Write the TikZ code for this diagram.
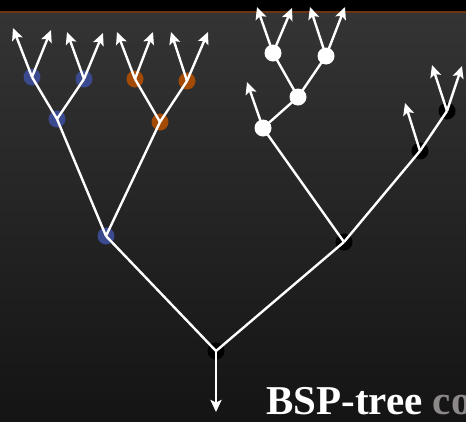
\documentclass[tikz,border=0pt]{standalone}
\usepackage{fontspec}
\setmainfont{Liberation Serif}
\usetikzlibrary{arrows.meta}
\definecolor{bluen}{HTML}{3B4A8E}
\definecolor{orangen}{HTML}{A34A05}
\definecolor{bgtop}{HTML}{343434}
\definecolor{bgbot}{HTML}{141414}
\definecolor{rule}{HTML}{6E3410}
\definecolor{dimtext}{HTML}{8C8888}
\tikzset{
  x=1pt, y=-1pt,
  dot/.style={circle, inner sep=0pt, minimum size=17pt, draw=none},
  bdot/.style={dot, fill=bluen},
  odot/.style={dot, fill=orangen},
  wdot/.style={dot, fill=white},
  kdot/.style={dot, fill=black},
  edge/.style={white, line width=2.4pt},
  arr/.style={edge, -{Stealth[length=12pt,width=11pt,inset=2.5pt]}},
}
\begin{document}
\begin{tikzpicture}
\useasboundingbox (0,0) rectangle (466,421);
\clip (0,0) rectangle (466,421);
\shade[top color=bgtop, bottom color=bgbot] (0,12) rectangle (466,421);
\fill[black] (0,0) rectangle (466,11.5);
\draw[rule, line width=1.3pt] (0,12) -- (466,12);

% nodes
\node[kdot] (root) at (216,351) {};
\node[bdot] (L) at (106,236) {};
\node[kdot] (R) at (344,242) {};
\node[bdot] (LL) at (57,119) {};
\node[odot] (LR) at (160,122) {};
\node[bdot] (LLL) at (32,77) {};
\node[bdot] (LLR) at (84,79) {};
\node[odot] (LRL) at (135,79) {};
\node[odot] (LRR) at (187,81) {};
\node[wdot] (RL) at (263,128) {};
\node[wdot] (RLR) at (298,97) {};
\node[wdot] (RLRL) at (273,53) {};
\node[wdot] (RLRR) at (326,56) {};
\node[kdot] (RR) at (420,151) {};
\node[kdot] (RRR) at (447,111) {};

% leaf arrow ends
\coordinate (t1) at (13,28);
\coordinate (t2) at (51,30);
\coordinate (t3) at (67,32);
\coordinate (t4) at (103,33);
\coordinate (t5) at (117,32);
\coordinate (t6) at (153,32);
\coordinate (t7) at (171,32);
\coordinate (t8) at (208,32);
\coordinate (t9) at (247,82);
\coordinate (t10) at (257,7);
\coordinate (t11) at (292,8);
\coordinate (t12) at (310,7);
\coordinate (t13) at (345,7);
\coordinate (t14) at (405,103);
\coordinate (t15) at (432,65);
\coordinate (t16) at (462,66);
\coordinate (tdown) at (216,412);

% edges
\draw[edge] (root.center) -- (L.center);
\draw[edge] (root.center) -- (R.center);
\draw[edge] (L.center) -- (LL.center);
\draw[edge] (L.center) -- (LR.center);
\draw[edge] (R.center) -- (RL.center);
\draw[edge] (R.center) -- (RR.center);
\draw[edge] (RL.center) -- (RLR.center);
\draw[edge] (RR.center) -- (RRR.center);
\draw[edge] (RLR.center) -- (RLRL.center);
\draw[edge] (RLR.center) -- (RLRR.center);
\draw[edge] (LL.center) -- (LLL.center);
\draw[edge] (LL.center) -- (LLR.center);
\draw[edge] (LR.center) -- (LRL.center);
\draw[edge] (LR.center) -- (LRR.center);

\draw[arr] (LLL.center) -- (t1);
\draw[arr] (LLL.center) -- (t2);
\draw[arr] (LLR.center) -- (t3);
\draw[arr] (LLR.center) -- (t4);
\draw[arr] (LRL.center) -- (t5);
\draw[arr] (LRL.center) -- (t6);
\draw[arr] (LRR.center) -- (t7);
\draw[arr] (LRR.center) -- (t8);
\draw[arr] (RL.center) -- (t9);
\draw[arr] (RLRL.center) -- (t10);
\draw[arr] (RLRL.center) -- (t11);
\draw[arr] (RLRR.center) -- (t12);
\draw[arr] (RLRR.center) -- (t13);
\draw[arr] (RR.center) -- (t14);
\draw[arr] (RRR.center) -- (t15);
\draw[arr] (RRR.center) -- (t16);
\draw[arr] (root.center) -- (tdown);

\node[anchor=base west, inner sep=0pt, text=white, font=\fontsize{41}{44}\selectfont\bfseries] (title) at (266,414) {BSP-tree \textcolor{dimtext}{co}};
\end{tikzpicture}
\end{document}
